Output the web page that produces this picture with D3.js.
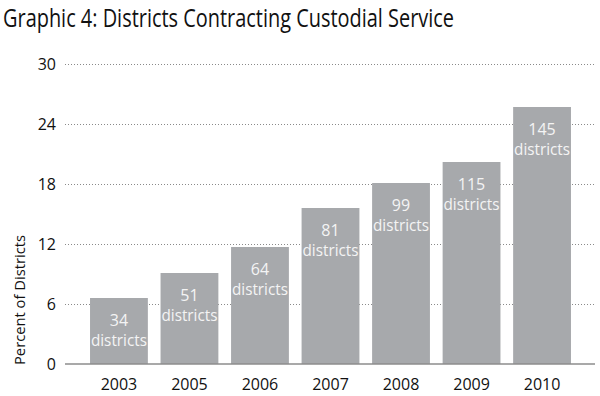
<!DOCTYPE html>
<html>
<head>
<meta charset="utf-8">
<script src="https://cdn.jsdelivr.net/npm/d3@7"></script>
<style>
  html, body { margin: 0; padding: 0; background: #fff; }
  svg { display: block; font-family: "Open Sans", "Noto Sans", sans-serif; }
</style>
</head>
<body>
<svg id="chart" width="600" height="396"></svg>
<script>
// ========= Data =========
const years = ["2003", "2005", "2006", "2007", "2008", "2009", "2010"];
const percents = [6.6, 9.1, 11.7, 15.6, 18.1, 20.2, 25.7];
const districtCounts = [34, 51, 64, 81, 99, 115, 145];
const yTicks = [0, 6, 12, 18, 24, 30];

const title = "Graphic 4: Districts Contracting Custodial Service";
const yLabel = "Percent of Districts";

// ========= Layout =========
const svg = d3.select("#chart");
const plot = { left: 65, right: 596, top: 64, bottom: 364 };

const x = d3.scaleBand()
  .domain(years)
  .range([plot.left, plot.right])
  .paddingInner(0.18)
  .paddingOuter(0.355);

const y = d3.scaleLinear()
  .domain([0, 30])
  .range([plot.bottom, plot.top]);

const rows = years.map((yr, i) => ({ year: yr, value: percents[i], count: districtCounts[i] }));

// title
svg.append("text")
  .attr("x", 3)
  .attr("y", 27)
  .attr("font-size", 26)
  .attr("fill", "#111")
  .attr("textLength", 451)
  .attr("lengthAdjust", "spacingAndGlyphs")
  .text(title);

// dotted gridlines (behind bars)
svg.append("g")
  .selectAll("line")
  .data(yTicks.filter(t => t > 0))
  .join("line")
  .attr("x1", plot.left)
  .attr("x2", plot.right)
  .attr("y1", d => y(d) + 0.5)
  .attr("y2", d => y(d) + 0.5)
  .attr("stroke", "#8a8a8a")
  .attr("stroke-width", 1)
  .attr("stroke-dasharray", "1,2");

// y tick labels
svg.append("g")
  .selectAll("text")
  .data(yTicks)
  .join("text")
  .attr("x", 56)
  .attr("y", d => y(d))
  .attr("dy", "0.36em")
  .attr("text-anchor", "end")
  .attr("font-size", 16)
  .attr("fill", "#111")
  .text(d => d);

// y axis label
svg.append("text")
  .attr("transform", `translate(25,300) rotate(-90)`)
  .attr("text-anchor", "middle")
  .attr("font-size", 15)
  .attr("fill", "#111")
  .attr("textLength", 130)
  .attr("lengthAdjust", "spacingAndGlyphs")
  .text(yLabel);

// bars
svg.append("g")
  .selectAll("rect")
  .data(rows)
  .join("rect")
  .attr("x", d => x(d.year))
  .attr("y", d => y(d.value))
  .attr("width", x.bandwidth())
  .attr("height", d => y(0) - y(d.value))
  .attr("fill", "#a7a9ac");

// baseline
svg.append("line")
  .attr("x1", plot.left)
  .attr("x2", plot.right - 1)
  .attr("y1", y(0))
  .attr("y2", y(0))
  .attr("stroke", "#8c8c8c")
  .attr("stroke-width", 1.5);

// bar labels (white, two lines)
const labels = svg.append("g")
  .selectAll("text")
  .data(rows)
  .join("text")
  .attr("text-anchor", "middle")
  .attr("font-size", 16)
  .attr("fill", "#f4f4f4");

labels.append("tspan")
  .attr("x", d => x(d.year) + x.bandwidth() / 2)
  .attr("y", d => y(d.value) + 28)
  .text(d => d.count);

labels.append("tspan")
  .attr("x", d => x(d.year) + x.bandwidth() / 2)
  .attr("y", d => y(d.value) + 48)
  .attr("textLength", 56)
  .attr("lengthAdjust", "spacingAndGlyphs")
  .text("districts");

// x labels
svg.append("g")
  .selectAll("text")
  .data(years)
  .join("text")
  .attr("x", d => x(d) + x.bandwidth() / 2)
  .attr("y", 390)
  .attr("text-anchor", "middle")
  .attr("font-size", 16)
  .attr("fill", "#111")
  .text(d => d);
</script>
</body>
</html>
